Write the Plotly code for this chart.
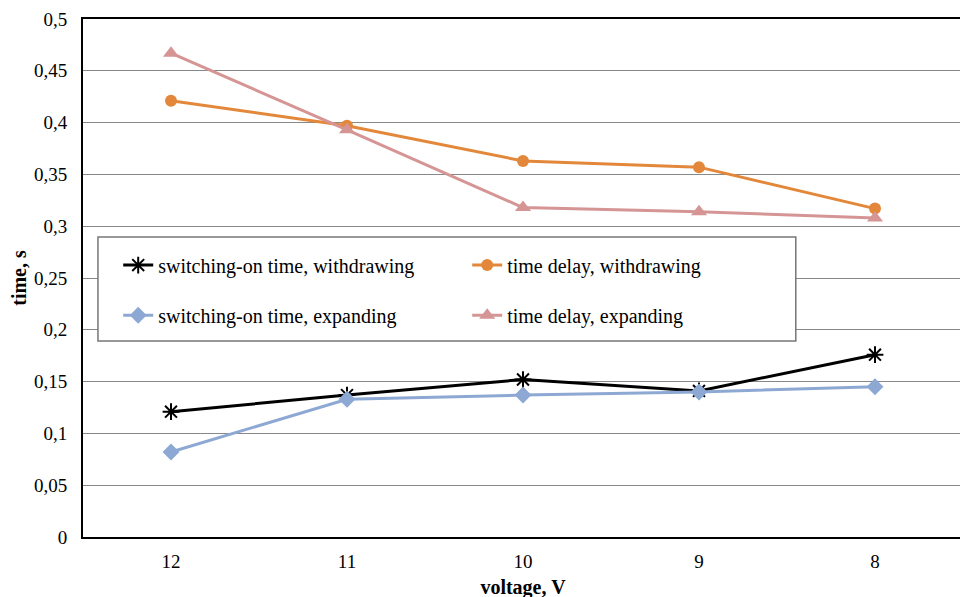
import plotly.graph_objects as go

voltage = ["12", "11", "10", "9", "8"]
sw_withdrawing = [0.121, 0.137, 0.152, 0.141, 0.176]
delay_withdrawing = [0.421, 0.397, 0.363, 0.357, 0.317]
sw_expanding = [0.082, 0.133, 0.137, 0.140, 0.145]
delay_expanding = [0.467, 0.393, 0.318, 0.314, 0.308]
y_ticks = [0, 0.05, 0.1, 0.15, 0.2, 0.25, 0.3, 0.35, 0.4, 0.45, 0.5]

FONT = "Liberation Serif"
fig = go.Figure()
fig.add_trace(go.Scatter(x=voltage, y=sw_withdrawing, name="switching-on time, withdrawing",
                         mode="lines+markers", line=dict(color="#000000", width=3),
                         marker=dict(symbol="asterisk-open", size=14, color="#000000",
                                     line=dict(color="#000000", width=2)), legend="legend"))
fig.add_trace(go.Scatter(x=voltage, y=delay_withdrawing, name="time delay, withdrawing",
                         mode="lines+markers", line=dict(color="#E3883A", width=3),
                         marker=dict(symbol="circle", size=12, color="#E3883A"), legend="legend"))
fig.add_trace(go.Scatter(x=voltage, y=sw_expanding, name="switching-on time, expanding",
                         mode="lines+markers", line=dict(color="#8EA8D4", width=3),
                         marker=dict(symbol="diamond", size=13, color="#8EA8D4"), legend="legend2"))
fig.add_trace(go.Scatter(x=voltage, y=delay_expanding, name="time delay, expanding",
                         mode="lines+markers", line=dict(color="#D59595", width=3),
                         marker=dict(symbol="triangle-up", size=14, color="#D59595"), legend="legend2"))

leg_common = dict(orientation="h", xanchor="left", yanchor="middle", bgcolor="rgba(0,0,0,0)",
                  borderwidth=0, font=dict(family=FONT, size=20, color="#000"),
                  entrywidth=304, entrywidthmode="pixels", itemwidth=30)

fig.update_layout(
    template="none",
    width=968, height=597,
    margin=dict(l=75, r=13, t=11, b=68),
    paper_bgcolor="white", plot_bgcolor="white",
    separators=", ",
    font=dict(family=FONT, size=19, color="#000"),
    showlegend=True,
    legend=dict(x=0.040, y=0.525, **leg_common),
    legend2=dict(x=0.040, y=0.428, **leg_common),
    xaxis=dict(type="category", range=[-0.5, 4.5], automargin=False, showline=True,
               linecolor="#000", linewidth=2, mirror=True,
               showgrid=False, ticks="", ticklabelstandoff=6, tickfont=dict(family=FONT, size=19),
               title=dict(text="<b>voltage, V</b>", font=dict(family=FONT, size=20), standoff=9)),
    yaxis=dict(range=[0, 0.5], automargin=False, tickvals=y_ticks, showline=True, linecolor="#000",
               linewidth=2, mirror=True, showgrid=True, gridcolor="#888", gridwidth=1, zeroline=False,
               ticks="", ticklabelstandoff=10, tickfont=dict(family=FONT, size=19),
               title=dict(text="<b>time, s</b>", font=dict(family=FONT, size=20), standoff=21)),
    shapes=[dict(type="rect", xref="paper", yref="paper", x0=0.017, x1=0.81,
                 y0=(537 - 341) / 518, y1=(537 - 237) / 518,
                 line=dict(color="#777", width=1.5), fillcolor="white", layer="above")],
)
fig.write_html("out.html")
